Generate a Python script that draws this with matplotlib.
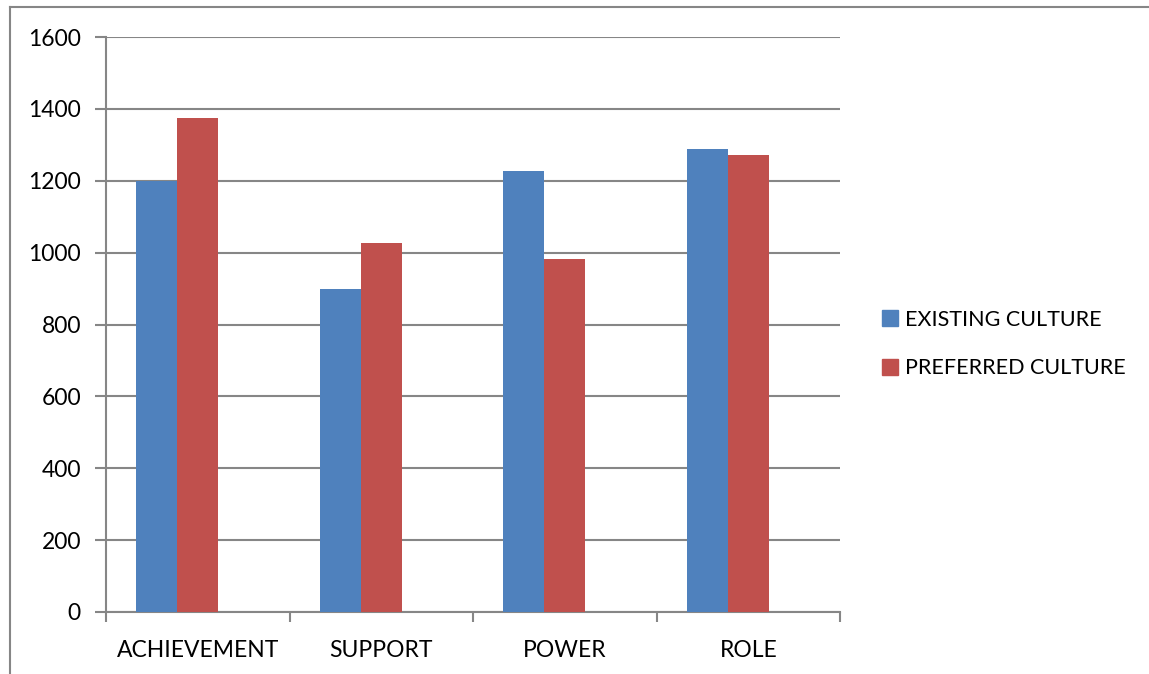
import matplotlib
matplotlib.use("Agg")
import matplotlib.pyplot as plt
from matplotlib.lines import Line2D
import numpy as np

categories = ["ACHIEVEMENT", "SUPPORT", "POWER", "ROLE"]
existing = [1200, 900, 1228, 1287]
preferred = [1375, 1027, 981, 1271]
series_names = ["EXISTING CULTURE", "PREFERRED CULTURE"]
y_ticks = [0, 200, 400, 600, 800, 1000, 1200, 1400, 1600]

plt.rcParams["font.family"] = ["Lato", "DejaVu Sans"]
FS = 16.5
LEG_FS = 15.5

W, H = 1149, 674
fig = plt.figure(figsize=(W / 100, H / 100), dpi=100)
ax = fig.add_axes([106 / W, 1 - 612 / H, (840 - 106) / W, (612 - 37) / H])

grid_c = "#868686"
blue = "#4F81BD"
red = "#C0504D"

# clusters laid out with three slots per category; the third slot stays empty
x = np.arange(len(categories))
bw = 0.223
ax.bar(x - bw, existing, bw, color=blue, label=series_names[0], zorder=3)
ax.bar(x, preferred, bw, color=red, label=series_names[1], zorder=3)

ax.set_xlim(-0.5, len(categories) - 0.5)
ax.set_ylim(0, 1600)
ax.set_yticks(y_ticks)
ax.set_yticklabels([str(v) for v in y_ticks], fontsize=FS)
ax.yaxis.grid(True, color=grid_c, linewidth=1.5, zorder=0)
ax.set_axisbelow(True)

ax.set_xticks(x)
ax.set_xticklabels(categories, fontsize=FS)
ax.tick_params(axis="x", length=0, pad=20)
ax.set_xticks(np.arange(-0.5, len(categories)), minor=True)
ax.tick_params(axis="x", which="minor", length=7, width=1.5, color=grid_c, direction="out")
ax.tick_params(axis="y", length=8, width=1.5, color=grid_c, direction="out", pad=10)

for s in ["top", "right"]:
    ax.spines[s].set_visible(False)
for s in ["left", "bottom"]:
    ax.spines[s].set_color(grid_c)
    ax.spines[s].set_linewidth(1.5)

handles = [
    Line2D([], [], marker="s", linestyle="none", markersize=11.5, color=blue),
    Line2D([], [], marker="s", linestyle="none", markersize=11.5, color=red),
]
fig.legend(handles, series_names, loc="center left",
           bbox_to_anchor=(860 / W, 1 - 344 / H), frameon=False,
           fontsize=LEG_FS, handletextpad=0.2, labelspacing=1.33,
           handlelength=1.0)

# chart frame (top and left edges)
fig.add_artist(Line2D([10 / W, 1], [1 - 7 / H, 1 - 7 / H], color=grid_c, linewidth=1.5))
fig.add_artist(Line2D([10 / W, 10 / W], [0, 1 - 7 / H], color=grid_c, linewidth=1.5))

fig.savefig("out.png", dpi=100)
